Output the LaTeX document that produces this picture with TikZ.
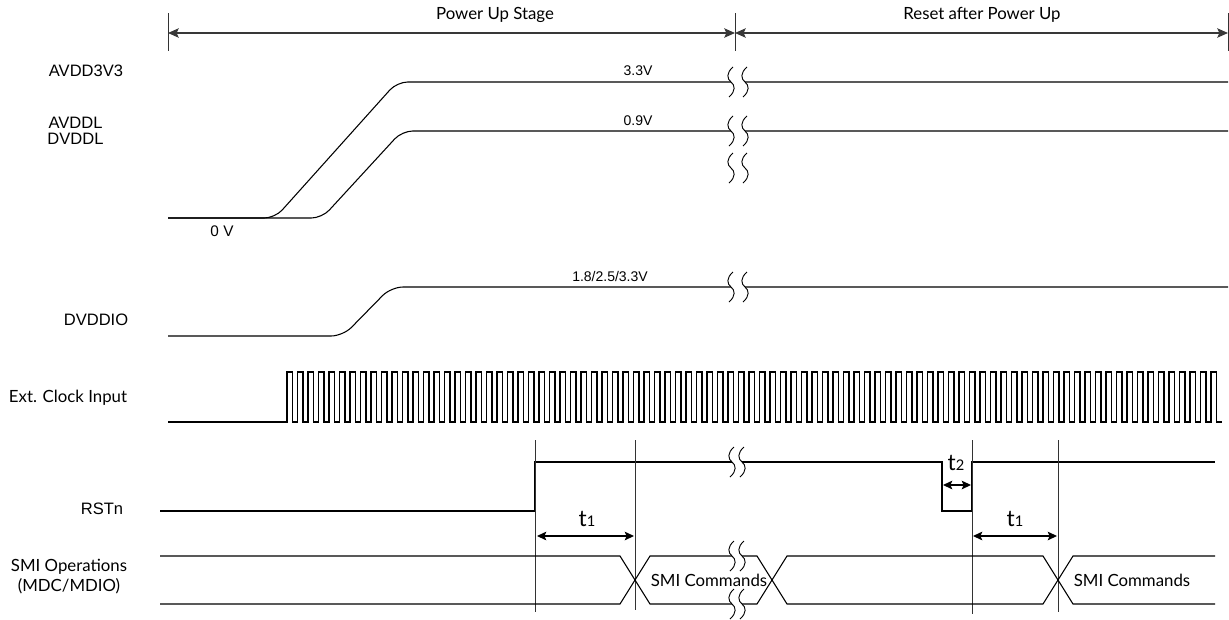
\documentclass[tikz,border=0pt]{standalone}
\usepackage{fontspec}
\setmainfont{Liberation Sans}
\newfontfamily\lato{Lato}
\usetikzlibrary{arrows.meta}
\newcommand\brkmark[3]{%
  \fill[white] (#1-#3,#2-2.5) rectangle (#1+#3,#2+2.5);
  \foreach \dx in {-#3,#3}{
    \draw[brkline] (#1+\dx+2,#2-15) .. controls (#1+\dx-5,#2-9) and (#1+\dx-4,#2-3) .. (#1+\dx,#2)
      .. controls (#1+\dx+4,#2+3) and (#1+\dx+5,#2+9) .. (#1+\dx-2,#2+15);
  }}
\begin{document}
\begin{tikzpicture}[x=0.75pt,y=-0.75pt,
  sig/.style={line width=0.8pt,black},
  guide/.style={line width=0.6pt,black!80},
  brkline/.style={line width=0.7pt,black},
  toparrow/.style={line width=1.2pt,black!78,{Stealth[length=8pt,width=7pt,inset=1.5pt]}-{Stealth[length=8pt,width=7pt,inset=1.5pt]}},
  tarrow/.style={line width=0.9pt,black,{Stealth[length=7pt,width=6.5pt,inset=1.5pt]}-{Stealth[length=7pt,width=6.5pt,inset=1.5pt]}},
  lbl/.style={font=\fontsize{12.4}{12}\selectfont,inner sep=0pt,align=center},
  vlbl/.style={font=\fontsize{10.5}{12}\selectfont,inner sep=0pt},
  llbl/.style={font=\lato\fontsize{12.6}{15}\selectfont,inner sep=0pt,align=center},
  tlbl/.style={font=\lato\fontsize{17}{17}\selectfont,inner sep=0pt}]
\useasboundingbox (0,0) rectangle (1229,619);

% ---------- top stage arrows ----------
\coordinate (sL) at (168,33); \coordinate (sM) at (735,33); \coordinate (sR) at (1228,33);
\draw[guide] (168,13) -- (168,51);
\draw[guide] (735,13) -- (735,51);
\draw[guide] (1228,13) -- (1228,51);
\draw[toparrow] (sL) -- (sM);
\draw[toparrow] (sM) -- (sR);
\node[llbl] (pus) at (495,15) {Power Up Stage};
\node[llbl] (rap) at (982,15) {Reset after Power Up};

% ---------- supplies ----------
\node[lbl] (avdd3) at (86,71) {AVDD3V3};
\node[lbl] (avddl) at (75.5,131) {AVDDL\\DVDDL};
\node[lbl] (dvddio) at (96,320) {DVDDIO};
\draw[sig,rounded corners=8pt] (168,218) -- (275,218) -- (397,82) -- (1228,82);
\draw[sig,rounded corners=8pt] (168,218) -- (322,218) -- (402,131) -- (1228,131);
\draw[sig,rounded corners=9pt] (168,336) -- (343,336) -- (391,287) -- (1228,287);
\node[vlbl] (v33) at (638,71) {3.3V};
\node[vlbl] (v09) at (638,121) {0.9V};
\node[vlbl,font=\fontsize{11.5}{12}\selectfont] (v0) at (222,231) {0 V};
\node[vlbl] (vio) at (610,276) {1.8/2.5/3.3V};
\brkmark{738}{82}{7}
\brkmark{738}{131}{7}
\brkmark{738}{168}{7}
\brkmark{738}{287}{7}

% ---------- clock ----------
\node[llbl] (clk) at (68,398) {Ext. Clock Input};
\draw[sig,line width=0.9pt] (168,422) -- (287,422)
  \foreach \i in {1,...,89}{ -- ++(0,-50) -- ++(5.5,0) -- ++(0,50) -- ++(5,0)};

% ---------- RSTn ----------
\node[lbl] (rst) at (102,509) {RSTn};
\draw[sig] (160,511) -- (535,511) -- (535,462) -- (942,462) -- (942,511) -- (972,511) -- (972,462) -- (1215,462);
\brkmark{737}{462}{5}

% guides
\draw[guide] (535,440) -- (535,612);
\draw[guide] (635,440) -- (635,610);
\draw[guide] (972,440) -- (972,614);
\draw[guide] (1058,440) -- (1058,612);

% timing arrows
\coordinate (a1) at (537,536); \coordinate (b1) at (634,536);
\coordinate (a2) at (943,485); \coordinate (b2) at (971,485);
\coordinate (a3) at (973,536); \coordinate (b3) at (1057,536);
\draw[tarrow] (a1) -- (b1);
\draw[tarrow] (a2) -- (b2);
\draw[tarrow] (a3) -- (b3);
\node[tlbl] (t1a) at (587,519) {t{\fontsize{11}{11}\selectfont 1}};
\node[tlbl] (t2) at (956,463) {t{\fontsize{11}{11}\selectfont 2}};
\node[tlbl] (t1b) at (1015,519) {t{\fontsize{11}{11}\selectfont 1}};

% ---------- SMI ----------
\node[llbl] (smi) at (69,577) {SMI Operations\\(MDC/MDIO)};
\draw[sig] (160,556) -- (620,556) -- (650,604) -- (757,604) -- (787,556) -- (1043,556) -- (1073,604) -- (1215,604);
\draw[sig] (160,604) -- (620,604) -- (650,556) -- (757,556) -- (787,604) -- (1043,604) -- (1073,556) -- (1215,556);
\brkmark{737}{556}{5}
\brkmark{737}{604}{5}
\node[llbl] (cmd1) at (709,580) {SMI Commands};
\node[llbl] (cmd2) at (1132,580) {SMI Commands};
\end{tikzpicture}
\end{document}
